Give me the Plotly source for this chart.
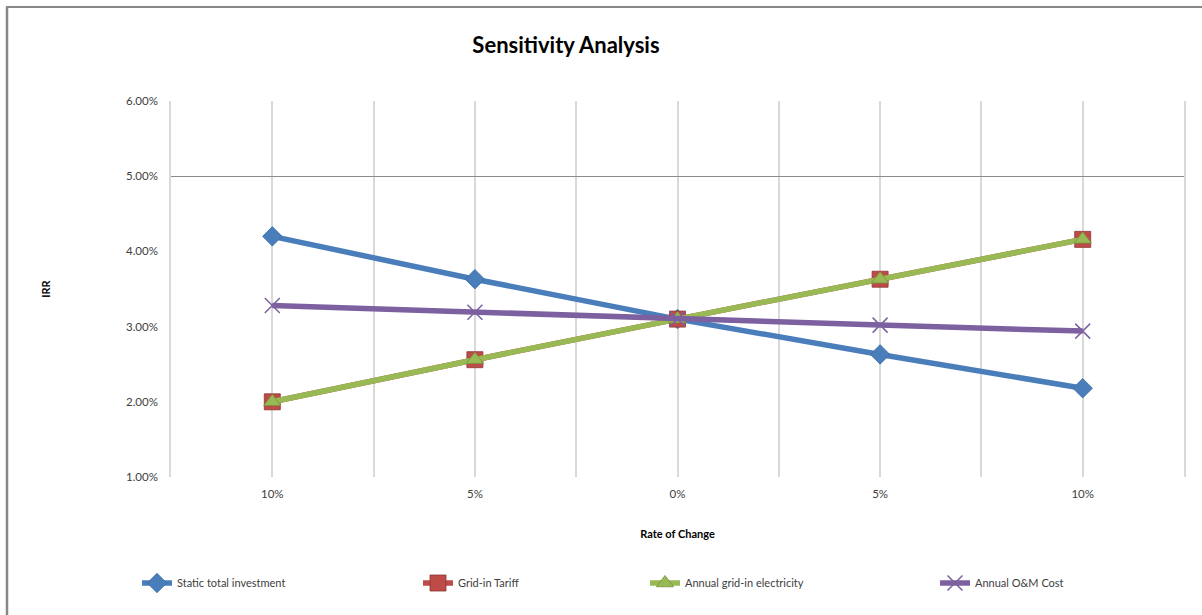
import plotly.graph_objects as go

# ---- data ----
categories = ["10%", "5%", "0%", "5%", "10%"]
static_total_investment = [0.0420, 0.0363, 0.0310, 0.0263, 0.0218]
grid_in_tariff = [0.0200, 0.0256, 0.0310, 0.0363, 0.0416]
annual_grid_in_electricity = [0.0200, 0.0256, 0.0310, 0.0363, 0.0416]
annual_om_cost = [0.0328, 0.0319, 0.0310, 0.0302, 0.0294]
y_ticks = [0.01, 0.02, 0.03, 0.04, 0.05, 0.06]
series_names = ["Static total investment", "Grid-in Tariff",
                "Annual grid-in electricity", "Annual O&M Cost"]

FONT = "Lato, Open Sans, sans-serif"
W, H = 1202, 615
L, R, T, B = 171, 1184, 101, 477  # plot area pixels

x_idx = list(range(len(categories)))

def px_x(p):
    return (p - L) / (R - L)

def px_y(p):
    return (B - p) / (B - T)

fig = go.Figure()

styles = [
    dict(color="#4A7EBB", symbol="diamond", size=15, lw="#3A6BA5"),
    dict(color="#BE4B48", symbol="square", size=16, lw="#8E3431"),
    dict(color="#98B954", symbol="triangle-up", size=15, lw="#76923C"),
    dict(color="#7D60A0", symbol="x-thin", size=15, lw="#7D60A0"),
]
values = [static_total_investment, grid_in_tariff, annual_grid_in_electricity, annual_om_cost]
legend_ids = ["legend", "legend2", "legend3", "legend4"]

for name, vals, st, lg in zip(series_names, values, styles, legend_ids):
    marker = dict(symbol=st["symbol"], size=st["size"], color=st["color"],
                  line=dict(color=st["lw"], width=1.5 if st["symbol"] == "x-thin" else 0.8))
    fig.add_trace(go.Scatter(
        x=x_idx, y=vals, name=name, mode="lines+markers",
        line=dict(color=st["color"], width=5.5),
        marker=marker, legend=lg, cliponaxis=False,
    ))

# invisible trace on y2 for extra gridlines
fig.add_trace(go.Scatter(x=[x_idx[0]], y=[y_ticks[0]], yaxis="y2", showlegend=False,
                         mode="markers", marker=dict(opacity=0), hoverinfo="skip"))

fig.update_layout(
    width=W, height=H,
    margin=dict(l=L, r=W - R, t=T, b=H - B),
    paper_bgcolor="white", plot_bgcolor="white",
    font=dict(family=FONT, size=11, color="#404040"),
    title=dict(text="<b>Sensitivity Analysis</b>", x=566 / W, xref="container",
               xanchor="center", y=1 - 45 / H, yref="container", yanchor="middle",
               font=dict(size=22, color="#000000", family=FONT)),
    xaxis=dict(
        range=[-0.5, len(categories) - 0.5],
        tickmode="array", tickvals=x_idx, ticktext=categories,
        showgrid=True, gridcolor="#D9D9D9", gridwidth=1.5,
        minor=dict(tickmode="linear", tick0=-0.5, dtick=0.5, showgrid=True,
                   gridcolor="#D9D9D9", gridwidth=1.5),
        zeroline=False, showline=False, ticks="",
        ticklabelstandoff=8,
        title=dict(text="<b>Rate of Change</b>", standoff=31,
                   font=dict(size=11, color="#000000")),
        tickfont=dict(size=11.5, color="#404040"),
    ),
    yaxis=dict(
        range=[y_ticks[0], y_ticks[-1]],
        tickmode="array", tickvals=y_ticks, tickformat=".2%",
        showgrid=False, zeroline=False,
        showline=True, mirror=True, linecolor="#D9D9D9", linewidth=1.5,
        ticks="", ticklabelstandoff=9,
        title=dict(text="<b>IRR</b>", standoff=73,
                   font=dict(size=11, color="#000000")),
        tickfont=dict(size=11.5, color="#404040"),
    ),
    yaxis2=dict(
        overlaying="y", range=[y_ticks[0], y_ticks[-1]],
        tickmode="array", tickvals=y_ticks[-2:], showticklabels=False,
        showgrid=True, gridcolor="#8C8C8C", gridwidth=1.2, zeroline=False,
        showline=False, ticks="",
    ),
    showlegend=True,
)

legend_text_x = [181, 462, 689, 979]
for lg, tx in zip(legend_ids, legend_text_x):
    fig.update_layout({lg: dict(
        x=px_x(tx - 44), xanchor="left", y=px_y(583), yanchor="middle",
        orientation="h", bgcolor="rgba(0,0,0,0)",
        font=dict(size=11, color="#404040", family=FONT),
        itemwidth=30,
    )})

# chart border (left and top)
fig.add_shape(type="line", xref="paper", yref="paper",
              x0=px_x(7), x1=px_x(7), y0=px_y(7), y1=px_y(H + 5),
              line=dict(color="#888888", width=2.5))
fig.add_shape(type="line", xref="paper", yref="paper",
              x0=px_x(6), x1=px_x(W + 5), y0=px_y(7), y1=px_y(7),
              line=dict(color="#888888", width=2))

fig.write_html("out.html", config={"displayModeBar": False},
               post_script="document.body.style.margin='0px';document.body.style.overflow='hidden';")
